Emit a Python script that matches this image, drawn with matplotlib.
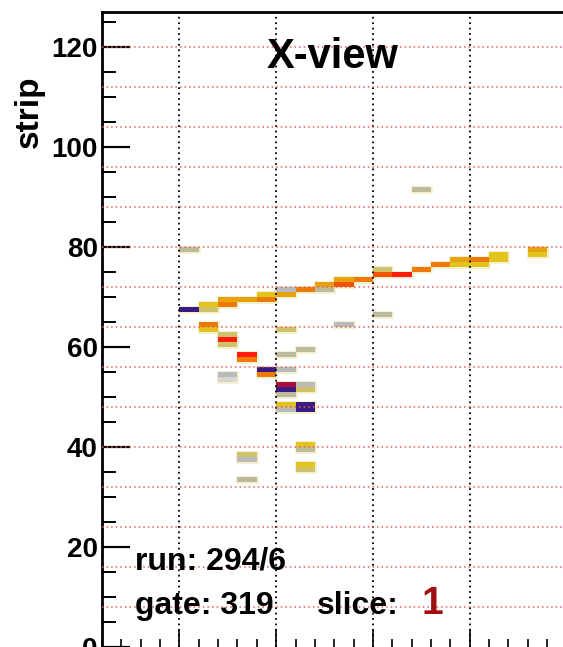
import numpy as np
import matplotlib
matplotlib.use("Agg")
import matplotlib.pyplot as plt
from matplotlib.colors import ListedColormap

plt.rcParams['font.family'] = ['Liberation Sans', 'DejaVu Sans']
plt.rcParams['font.weight'] = 'bold'

# hit cells: plane, strip and charge bin
planes = [4, 5, 5, 6, 6, 7, 8, 8, 9, 9, 10, 11, 11, 12, 12, 13, 14, 14, 15, 16,
          17, 18, 18, 19, 19, 20, 20, 22, 22,
          5, 5, 6, 6, 6, 7, 7, 8, 8, 9, 9, 9, 9, 10, 10, 9, 9, 10, 10,
          4, 6, 6, 7, 7, 7, 9, 9, 10, 10, 10, 10, 10, 12, 14, 16]
strips = [67, 68, 67, 69, 68, 69, 70, 69, 71, 70, 71, 72, 71, 73, 72, 73, 75, 74, 74, 75,
          76, 77, 76, 77, 76, 78, 77, 79, 78,
          64, 63, 62, 61, 60, 58, 57, 55, 54, 55, 52, 51, 50, 52, 51, 48, 47, 48, 47,
          79, 54, 53, 38, 37, 33, 63, 58, 59, 40, 39, 36, 35, 64, 66, 91]
levels = [10, 4, 3, 5, 6, 5, 4, 6, 1, 5, 6, 5, 2, 5, 7, 6, 3, 7, 8, 6,
          6, 5, 4, 6, 4, 4, 4, 5, 4,
          6, 4, 3, 8, 3, 8, 6, 10, 6, 1, 9, 10, 2, 1, 3, 4, 1, 10, 10,
          2, 1, 0, 3, 1, 2, 3, 2, 2, 4, 2, 4, 3, 1, 2, 2]

palette = ['#d6d6d6', '#bababa', '#bdb99c', '#cfc26a', '#e3c41c', '#e9a20f',
           '#ef7a0a', '#f5520a', '#ff1c0c', '#a3103f', '#3b1a82']
cmap = ListedColormap(palette)

W, H = 563, 647
fig = plt.figure(figsize=(W / 100, H / 100), dpi=100)
ax = fig.add_axes([102 / W, 0, 25 * 19.35 / W, 635 / H])

cell_colors = [cmap(v) for v in levels]
# pale halo under the cells, then the cells themselves
ax.bar(planes, 1, width=1, bottom=strips, align='edge', color='none',
       edgecolor='#f2ecc4', linewidth=2.0, alpha=0.8, zorder=1)
ax.bar(planes, 1, width=1, bottom=strips, align='edge', color=cell_colors,
       linewidth=0, zorder=1.5)

ax.set_xlim(0, 25)
ax.set_ylim(0, 127)

ax.set_xticks(np.arange(4, 25, 5))
ax.set_xticks(np.arange(0, 26, 1), minor=True)
ax.set_yticks(np.arange(0, 121, 20))
ax.set_yticks(np.arange(0, 128, 5), minor=True)
ax.tick_params(axis='x', which='major', direction='in', length=13, width=1.2,
               labelbottom=False)
ax.tick_params(axis='x', which='minor', direction='in', length=6, width=1.2)
ax.tick_params(axis='y', which='major', direction='in', length=20, width=1.6,
               labelsize=20, pad=3)
ax.tick_params(axis='y', which='minor', direction='in', length=10, width=1.4)

ax.set_axisbelow(False)
ax.grid(axis='x', which='major', color='black', linestyle=(0, (1, 2)),
        linewidth=1.3)
for y in np.arange(8, 127, 8):
    ax.axhline(y, color='#e06060', linestyle=(0, (1, 2)), linewidth=1.1,
               zorder=3)

for side in ['right', 'bottom']:
    ax.spines[side].set_visible(False)
ax.spines['left'].set_linewidth(2)
ax.spines['top'].set_linewidth(2)

fig.text(333 / W, 1 - 68 / H, 'X-view', fontsize=30, ha='center',
         va='baseline')
fig.text(45 / W, 1 - 112 / H, 'strip', fontsize=24, rotation=90,
         ha='right', va='center')
fig.text(135 / W, 1 - 570 / H, 'run: 294/6', fontsize=23, va='baseline')
fig.text(135 / W, 1 - 614 / H, 'gate: 319', fontsize=23, va='baseline')
fig.text(317 / W, 1 - 614 / H, 'slice:', fontsize=23, va='baseline')
fig.text(421 / W, 1 - 614 / H, '1', fontsize=28, color='#a01010',
         va='baseline')

fig.savefig('out.png', dpi=100)
